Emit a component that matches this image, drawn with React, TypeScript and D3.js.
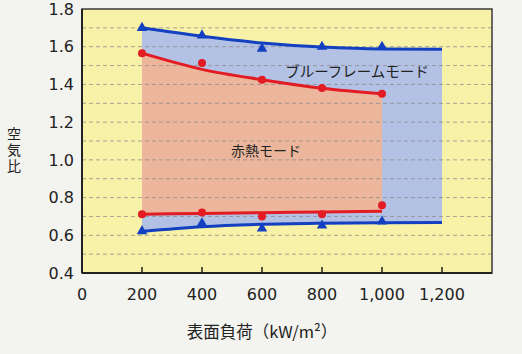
import React from "react";
import * as d3 from "d3";

const loads = [200, 400, 600, 800, 1000];
const blueMeasuredUpper = [1.70, 1.66, 1.59, 1.60, 1.60];
const blueMeasuredLower = [0.622, 0.664, 0.636, 0.652, 0.673];
const redMeasuredUpper = [1.566, 1.513, 1.425, 1.381, 1.351];
const redMeasuredLower = [0.712, 0.721, 0.70, 0.712, 0.759];

const blueFitX = [200, 400, 600, 800, 1000, 1200];
const blueFitUpper = [1.70, 1.655, 1.62, 1.598, 1.588, 1.587];
const blueFitLower = [0.62, 0.645, 0.658, 0.664, 0.667, 0.668];
const redFitX = [200, 400, 600, 800, 1000];
const redFitUpper = [1.566, 1.48, 1.425, 1.38, 1.35];
const redFitLower = [0.712, 0.716, 0.72, 0.724, 0.728];

const xTicks = [0, 200, 400, 600, 800, 1000, 1200];
const yTicks = [0.4, 0.6, 0.8, 1.0, 1.2, 1.4, 1.6, 1.8];
const gridValues = [0.5, 0.6, 0.7, 0.8, 0.9, 1.0, 1.1, 1.2, 1.3, 1.4, 1.5, 1.6, 1.7];

const blueLabel = "ブルーフレームモード";
const redLabel = "赤熱モード";
const yTitle = "空気比";
const xTitle = "表面負荷（kW/m²）";

const W = 522, H = 354;
const L = 82, T = 9, R = 492, B = 273;

export default function App() {
  const x = d3.scaleLinear().domain([0, 1200]).range([82, 442]);
  const y = d3.scaleLinear().domain([0.4, 1.8]).range([B, T]);

  const area = d3
    .area<[number, number, number]>()
    .x((d) => x(d[0]))
    .y0((d) => y(d[2]))
    .y1((d) => y(d[1]))
    .curve(d3.curveMonotoneX);
  const line = d3
    .line<[number, number]>()
    .x((d) => x(d[0]))
    .y((d) => y(d[1]))
    .curve(d3.curveMonotoneX);

  const blueArea = blueFitX.map((v, i) => [v, blueFitUpper[i], blueFitLower[i]] as [number, number, number]);
  const redArea = redFitX.map((v, i) => [v, redFitUpper[i], redFitLower[i]] as [number, number, number]);
  const tri = d3.symbol().type(d3.symbolTriangle).size(48)();

  const blue = "#1240c0";
  const red = "#e31b23";
  const font = "'DejaVu Sans', sans-serif";
  const jp = "'Noto Sans CJK JP', sans-serif";

  return (
    <svg width={W} height={H} style={{ position: "absolute", left: 0, top: 0 }}>
      <rect x={0} y={0} width={W} height={H} fill="#f3f3ef" />
      <rect x={L} y={T} width={R - L} height={B - T} fill="#f8f2a9" />
      <path d={area(blueArea) || ""} fill="#b3c1e5" />
      <path d={area(redArea) || ""} fill="#ebb69c" />
      {gridValues.map((g) => (
        <line key={g} x1={L} x2={R} y1={y(g)} y2={y(g)} stroke="#8a8a8a" strokeWidth={1} strokeDasharray="4,3" opacity={0.75} />
      ))}
      <path d={line(blueFitX.map((v, i) => [v, blueFitUpper[i]] as [number, number])) || ""} fill="none" stroke={blue} strokeWidth={3} />
      <path d={line(blueFitX.map((v, i) => [v, blueFitLower[i]] as [number, number])) || ""} fill="none" stroke={blue} strokeWidth={3} />
      <path d={line(redFitX.map((v, i) => [v, redFitUpper[i]] as [number, number])) || ""} fill="none" stroke={red} strokeWidth={3} />
      <path d={line(redFitX.map((v, i) => [v, redFitLower[i]] as [number, number])) || ""} fill="none" stroke={red} strokeWidth={3} />
      {loads.map((v, i) => (
        <g key={"m" + v}>
          <path d={tri || ""} transform={`translate(${x(v)},${y(blueMeasuredUpper[i])})`} fill={blue} />
          <path d={tri || ""} transform={`translate(${x(v)},${y(blueMeasuredLower[i])})`} fill={blue} />
          <circle cx={x(v)} cy={y(redMeasuredUpper[i])} r={4} fill={red} />
          <circle cx={x(v)} cy={y(redMeasuredLower[i])} r={4} fill={red} />
        </g>
      ))}
      <text x={357} y={77} fontFamily={jp} fontSize={14.5} fill="#222" textAnchor="middle">{blueLabel}</text>
      <text x={266} y={156} fontFamily={jp} fontSize={14} fill="#222" textAnchor="middle">{redLabel}</text>
      <rect x={L} y={T} width={R - L} height={B - T} fill="none" stroke="#3a3a3a" strokeWidth={1.5} />
      <line x1={L} x2={L} y1={T} y2={B} stroke="#222" strokeWidth={2} />
      <line x1={L} x2={R} y1={B} y2={B} stroke="#222" strokeWidth={2} />
      {xTicks.filter((t) => t > 0).map((t) => (
        <line key={"xt" + t} x1={x(t)} x2={x(t)} y1={B} y2={B - 6} stroke="#222" strokeWidth={1.5} />
      ))}
      {xTicks.map((t) => (
        <text key={"xl" + t} x={x(t)} y={300} fontFamily={font} fontSize={16} fill="#222" textAnchor="middle">
          {d3.format(",")(t)}
        </text>
      ))}
      {yTicks.map((t) => (
        <text key={"yl" + t} x={74} y={y(t)} dy="0.36em" fontFamily={font} fontSize={16} fill="#222" textAnchor="end">
          {t.toFixed(1)}
        </text>
      ))}
      <text
        x={14}
        y={151}
        fontFamily={jp}
        fontSize={14}
        fill="#222"
        textAnchor="middle"
        style={{ writingMode: "vertical-rl", letterSpacing: "2px" }}
      >
        {yTitle}
      </text>
      <text x={262} y={338} fontFamily={jp} fontSize={16.5} fill="#222" textAnchor="middle">{xTitle}</text>
    </svg>
  );
}
